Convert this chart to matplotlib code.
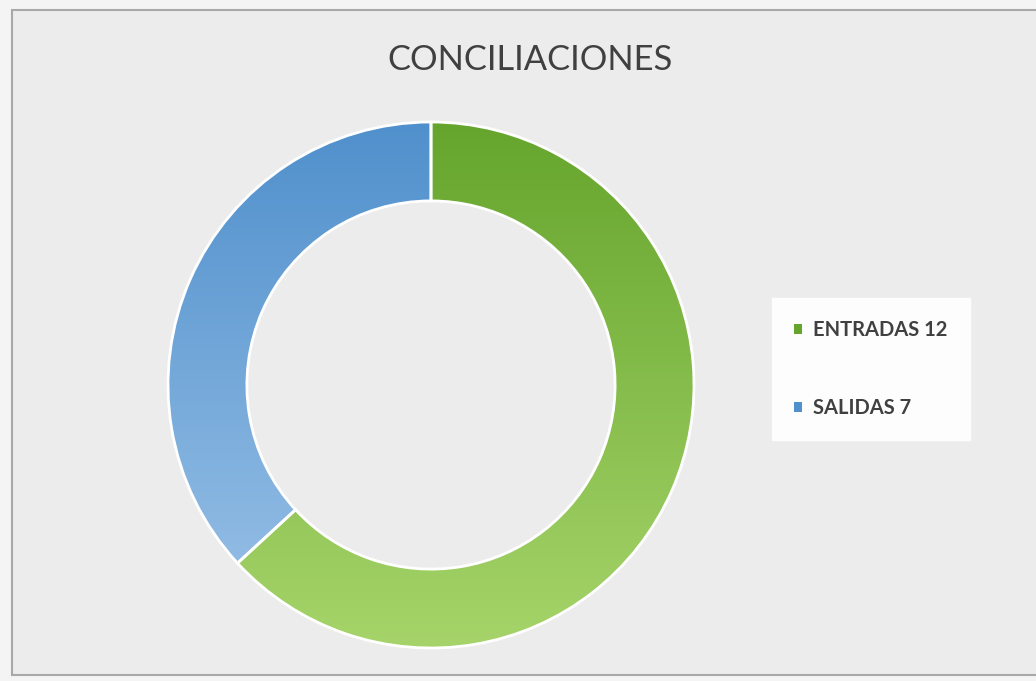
import numpy as np
import matplotlib.pyplot as plt
from matplotlib.patches import Rectangle, Patch
from matplotlib.colors import LinearSegmentedColormap

# Data
labels = ["ENTRADAS 12", "SALIDAS 7"]
values = [12, 7]
colors_top = ["#65a52d", "#5090cc"]
colors_bottom = ["#a6d46a", "#9cc3e8"]

plt.rcParams['font.family'] = ['Lato', 'DejaVu Sans']

fig = plt.figure(figsize=(10.36, 6.81), dpi=100)
fig.patch.set_facecolor('#f4f4f4')

# chart frame
frame = Rectangle((12 / 1036, 6 / 681), 1030 / 1036, 665 / 681,
                  transform=fig.transFigure, facecolor='#ececec',
                  edgecolor='#a8a8a8', linewidth=1.5, zorder=-10)
fig.patches.append(frame)

# donut axes: center (431, 385), outer radius 263 px
cx, cy, r = 431, 385, 263
ax = fig.add_axes([(cx - r) / 1036, (681 - cy - r) / 681, 2 * r / 1036, 2 * r / 681])
ax.set_zorder(1)
ax.patch.set_alpha(0)

wedges, _ = ax.pie(values, radius=1, startangle=90, counterclock=False,
                   wedgeprops=dict(width=0.3, edgecolor='white', linewidth=2))

# vertical gradient fill for each wedge
grad = np.linspace(0, 1, 256).reshape(-1, 1)
for w, ct, cb in zip(wedges, colors_top, colors_bottom):
    cmap = LinearSegmentedColormap.from_list('g', [ct, cb])
    im = ax.imshow(grad, cmap=cmap, extent=[-1, 1, -1, 1], origin='upper',
                   aspect='auto', zorder=w.get_zorder() + 0.1)
    im.set_clip_path(w)
    # white edge on top
    w.set_facecolor('none')
    w.set_zorder(w.get_zorder() + 0.2)

ax.set_xlim(-1, 1)
ax.set_ylim(-1, 1)
ax.set_aspect('equal')
ax.axis('off')

fig.text(530 / 1036, 1 - 60 / 681, "CONCILIACIONES", ha='center', va='center',
         fontsize=24.8, color='#404040')

# legend
handles = [Patch(facecolor=colors_top[0], label=labels[0]),
           Patch(facecolor=colors_top[1], label=labels[1])]
leg = fig.legend(handles=handles, loc='center left',
                 bbox_to_anchor=(762 / 1036, 1 - 369 / 681),
                 frameon=True, fancybox=False, edgecolor='white', facecolor='white',
                 handlelength=0.4, handleheight=0.4, handletextpad=0.55,
                 labelspacing=2.9, borderpad=1.1,
                 prop={'weight': 'bold', 'size': 14.5})
leg.get_frame().set_alpha(0.9)
for t in leg.get_texts():
    t.set_color('#404040')

fig.savefig('out.png', dpi=100, facecolor=fig.get_facecolor())
